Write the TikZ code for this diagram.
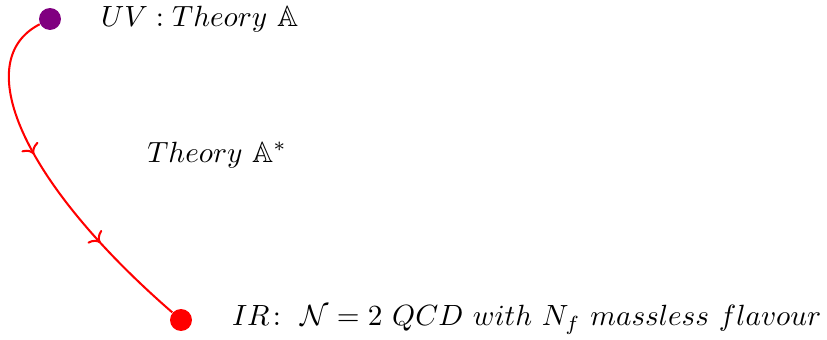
\documentclass[tikz,border=0pt]{standalone}
\usepackage{amsmath,amssymb}
\usetikzlibrary{positioning,arrows.meta,decorations.markings}
\definecolor{uvpurple}{RGB}{128,0,128}

\begin{document}
\begin{tikzpicture}[
  x=0.342pt, y=-0.342pt,
  dot/.style={circle, inner sep=0pt, minimum size=7.5pt},
  flow/.style={red, line width=0.7pt,
    postaction={decorate, decoration={markings,
      mark=at position 0.41 with {\arrow{>}},
      mark=at position 0.72 with {\arrow{>}}}}},
  node distance=10pt,
]
  \useasboundingbox (0,0) rectangle (827,340);
  \node[dot, fill=uvpurple] (uv) at (50,19) {};
  \node[dot, fill=red] (ir) at (181,320) {};
  \draw[flow] (uv) .. controls (-30,60) and (20,180) .. (ir);
  \node[right=of uv] (uvlabel) {$UV : Theory\ \mathbb{A}$};
  \node[right=of ir] (irlabel) {$IR\colon\ \mathcal{N}=2\ QCD\ with\ N_f\ massless\ flavour$};
  \node[anchor=west] (flowlabel) at (137,155) {$Theory\ \mathbb{A}^*$};
\end{tikzpicture}
\end{document}
